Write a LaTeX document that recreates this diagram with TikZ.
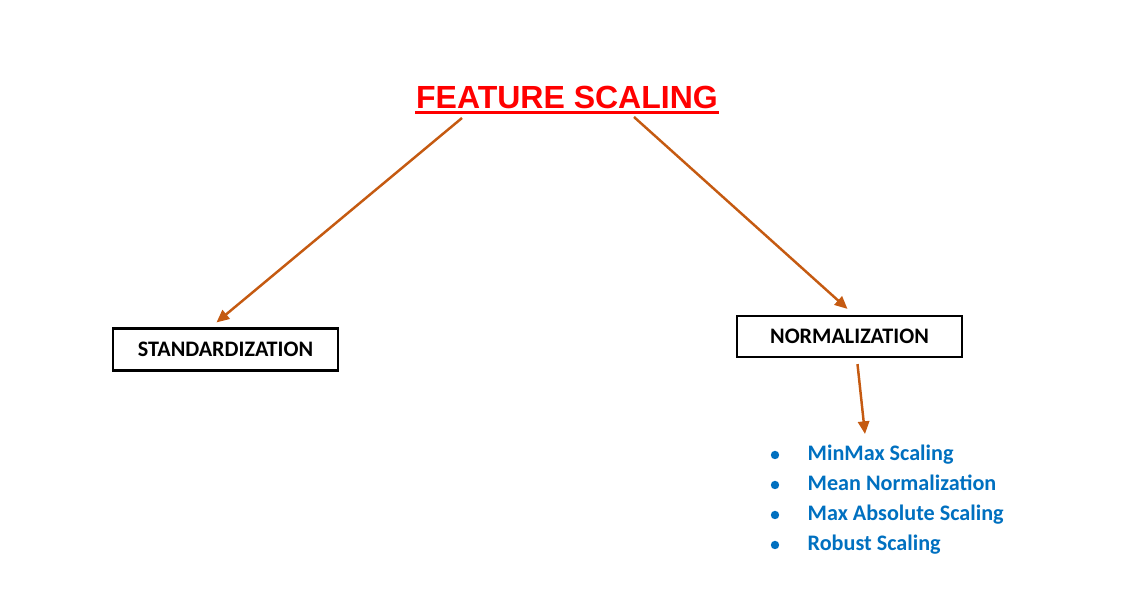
\documentclass[tikz,border=0pt]{standalone}
\usepackage{fontspec}
\setmainfont{Carlito}
\newfontfamily\arialfont{Liberation Sans}
\usetikzlibrary{arrows.meta,calc}

\definecolor{arrowbrown}{HTML}{C55A11}
\definecolor{listblue}{HTML}{0070C0}

\tikzset{
  heading/.style={text=red, font=\arialfont\bfseries\fontsize{9.1}{11}\selectfont, inner sep=0pt},
  methodbox/.style={draw=black, line width=0.6pt, minimum width=2.25cm, minimum height=0.42cm,
    font=\bfseries\fontsize{6.3}{7.5}\selectfont, inner sep=0pt},
  link/.style={arrowbrown, line width=0.7pt, -{Triangle[length=3.6pt,width=3.2pt]}},
  listitem/.style={text=listblue, font=\bfseries\fontsize{6.3}{7.5}\selectfont, inner sep=0pt, anchor=base west}
}

\begin{document}
\begin{tikzpicture}[x=0.01cm,y=-0.01cm]
  % Canvas (pixel units, y pointing down)
  \useasboundingbox (0,0) rectangle (1147,610);

  % Title with underline
  \node[heading, anchor=base] (title) at (567,109) {FEATURE SCALING};
  \draw[red, line width=0.85pt] ($(title.base west)+(0,3.5)$) -- ($(title.base east)+(0,3.5)$);

  % The two methods
  \node[methodbox] (std) at (225.5,349.5) {STANDARDIZATION};
  \node[methodbox, minimum height=0.41cm] (norm) at (849.5,336.5) {NORMALIZATION};

  % Arrows from the title
  \coordinate (left start) at (462,118);
  \coordinate (right start) at (634,117);
  \draw[link] (left start) -- ($(std.north)+(-9,-5)$);
  \draw[link] (right start) -- ($(norm.north)+(-2,-6)$);

  % Normalization techniques
  \coordinate (list top) at (865,434);
  \draw[link] ($(norm.south)+(8,6)$) -- (list top);
  \foreach \lbl [count=\i] in {MinMax Scaling, Mean Normalization, Max Absolute Scaling, Robust Scaling} {
    \fill[listblue] (775,{455+30*(\i-1)}) circle (4.2);
    \node[listitem] (item\i) at (807,{461+30*(\i-1)}) {\lbl};
  }
\end{tikzpicture}
\end{document}
